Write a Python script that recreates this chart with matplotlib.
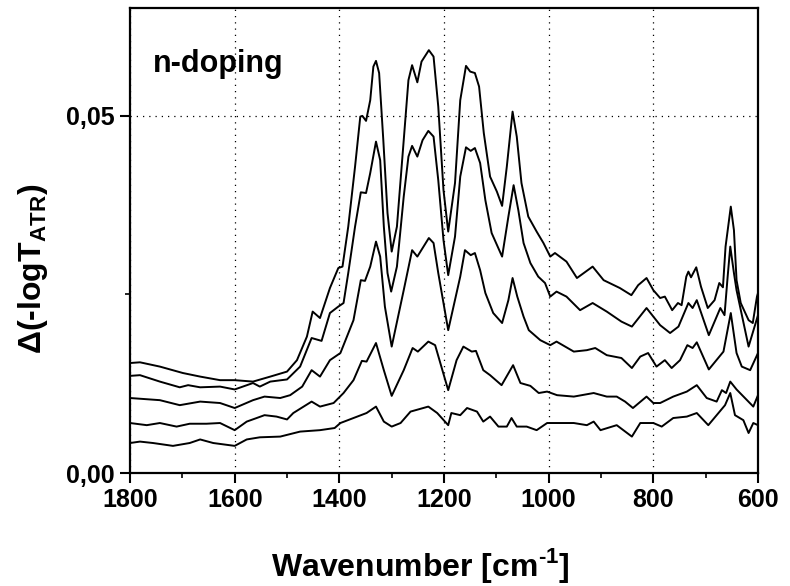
import matplotlib
matplotlib.use('Agg')
import matplotlib.pyplot as plt
from matplotlib.ticker import MultipleLocator, FuncFormatter

plt.rcParams['font.family'] = ['Liberation Sans', 'DejaVu Sans']
plt.rcParams['font.weight'] = 'bold'
plt.rcParams['mathtext.fontset'] = 'custom'
plt.rcParams['mathtext.rm'] = 'Liberation Sans:bold'
plt.rcParams['mathtext.bf'] = 'Liberation Sans:bold'

# spectra, top curve first
wn_1 = [1800, 1781, 1743, 1699, 1666, 1628, 1600, 1565, 1532, 1500, 1481, 1462, 1451, 1437,
        1418, 1402, 1394, 1383, 1370, 1360, 1356, 1349, 1341, 1335, 1330, 1324, 1316, 1308,
        1300, 1290, 1277, 1268, 1261, 1251, 1243, 1229, 1220, 1211, 1201, 1192, 1179, 1169,
        1158, 1150, 1141, 1133, 1124, 1112, 1099, 1089, 1080, 1069, 1061, 1052, 1039, 1023,
        1010, 997, 988, 966, 946, 916, 895, 864, 842, 829, 813, 800, 787, 778, 764, 753, 746,
        737, 733, 728, 718, 709, 696, 683, 674, 667, 662, 652, 646, 641, 633, 618, 610, 602,
        600]
ab_1 = [0.0154, 0.0155, 0.0149, 0.0140, 0.0135, 0.0130, 0.0130, 0.0128, 0.0135, 0.0142,
        0.0158, 0.0191, 0.0226, 0.0217, 0.0259, 0.0287, 0.0289, 0.0345, 0.0429, 0.0499,
        0.0500, 0.0493, 0.0522, 0.0569, 0.0577, 0.0560, 0.0466, 0.0364, 0.0310, 0.0345,
        0.0466, 0.0550, 0.0571, 0.0547, 0.0576, 0.0592, 0.0583, 0.0513, 0.0396, 0.0338,
        0.0406, 0.0522, 0.0570, 0.0562, 0.0560, 0.0541, 0.0476, 0.0415, 0.0394, 0.0374,
        0.0429, 0.0506, 0.0471, 0.0406, 0.0359, 0.0338, 0.0322, 0.0303, 0.0308, 0.0296,
        0.0273, 0.0289, 0.0270, 0.0259, 0.0249, 0.0263, 0.0273, 0.0256, 0.0245, 0.0247,
        0.0228, 0.0238, 0.0235, 0.0275, 0.0282, 0.0274, 0.0288, 0.0261, 0.0231, 0.0242,
        0.0266, 0.0260, 0.0317, 0.0373, 0.0340, 0.0270, 0.0238, 0.0214, 0.0210, 0.0247,
        0.0252]

wn_2 = [1800, 1781, 1743, 1705, 1689, 1666, 1628, 1600, 1565, 1552, 1532, 1500, 1475, 1453,
        1434, 1418, 1402, 1392, 1383, 1370, 1359, 1349, 1341, 1330, 1322, 1315, 1308, 1301,
        1290, 1277, 1268, 1261, 1251, 1241, 1230, 1220, 1211, 1201, 1192, 1179, 1169, 1158,
        1149, 1141, 1131, 1121, 1109, 1089, 1077, 1067, 1058, 1048, 1035, 1020, 1007, 997,
        985, 966, 940, 916, 889, 861, 841, 813, 787, 768, 752, 733, 725, 717, 694, 672, 664,
        658, 653, 646, 641, 618, 600]
ab_2 = [0.0136, 0.0137, 0.0128, 0.0120, 0.0123, 0.0120, 0.0121, 0.0117, 0.0126, 0.0121,
        0.0128, 0.0131, 0.0149, 0.0189, 0.0185, 0.0224, 0.0233, 0.0238, 0.0280, 0.0345,
        0.0393, 0.0392, 0.0420, 0.0464, 0.0438, 0.0345, 0.0280, 0.0254, 0.0289, 0.0387,
        0.0443, 0.0458, 0.0443, 0.0466, 0.0479, 0.0471, 0.0410, 0.0326, 0.0277, 0.0331,
        0.0415, 0.0456, 0.0451, 0.0455, 0.0434, 0.0382, 0.0336, 0.0303, 0.0359, 0.0403,
        0.0368, 0.0322, 0.0294, 0.0275, 0.0266, 0.0247, 0.0254, 0.0247, 0.0228, 0.0238,
        0.0226, 0.0212, 0.0205, 0.0231, 0.0207, 0.0196, 0.0205, 0.0238, 0.0231, 0.0242,
        0.0193, 0.0231, 0.0221, 0.0275, 0.0317, 0.0280, 0.0256, 0.0177, 0.0221]

wn_3 = [1800, 1743, 1705, 1666, 1628, 1600, 1565, 1543, 1513, 1494, 1471, 1453, 1437, 1418,
        1398, 1373, 1359, 1351, 1341, 1330, 1322, 1313, 1300, 1277, 1261, 1251, 1229, 1220,
        1211, 1192, 1169, 1160, 1149, 1141, 1131, 1121, 1106, 1089, 1077, 1069, 1060, 1048,
        1038, 1016, 997, 985, 952, 927, 911, 889, 861, 841, 825, 810, 794, 778, 765, 749, 735,
        725, 717, 694, 666, 652, 641, 631, 615, 600]
ab_3 = [0.0105, 0.0102, 0.0095, 0.0100, 0.0098, 0.0091, 0.0102, 0.0107, 0.0105, 0.0109,
        0.0121, 0.0144, 0.0135, 0.0158, 0.0168, 0.0214, 0.0270, 0.0269, 0.0289, 0.0324,
        0.0303, 0.0233, 0.0177, 0.0256, 0.0312, 0.0303, 0.0329, 0.0322, 0.0280, 0.0200,
        0.0275, 0.0312, 0.0305, 0.0308, 0.0284, 0.0252, 0.0224, 0.0210, 0.0242, 0.0273,
        0.0247, 0.0219, 0.0200, 0.0186, 0.0179, 0.0184, 0.0170, 0.0172, 0.0175, 0.0165,
        0.0161, 0.0147, 0.0163, 0.0168, 0.0149, 0.0158, 0.0147, 0.0158, 0.0179, 0.0175,
        0.0183, 0.0145, 0.0170, 0.0224, 0.0168, 0.0149, 0.0144, 0.0168]

wn_4 = [1800, 1768, 1743, 1711, 1686, 1654, 1628, 1600, 1577, 1558, 1543, 1520, 1500, 1488,
        1453, 1437, 1411, 1392, 1373, 1357, 1348, 1330, 1315, 1300, 1277, 1260, 1250, 1230,
        1217, 1192, 1176, 1163, 1147, 1139, 1125, 1112, 1090, 1068, 1054, 1035, 1019, 1003,
        984, 952, 914, 889, 870, 854, 839, 813, 800, 787, 762, 736, 717, 698, 679, 669, 661,
        653, 641, 621, 609, 600]
ab_4 = [0.0070, 0.0067, 0.0070, 0.0065, 0.0069, 0.0069, 0.0070, 0.0060, 0.0072, 0.0077,
        0.0081, 0.0079, 0.0075, 0.0084, 0.0100, 0.0093, 0.0098, 0.0112, 0.0130, 0.0157,
        0.0156, 0.0182, 0.0144, 0.0108, 0.0144, 0.0175, 0.0170, 0.0184, 0.0179, 0.0116,
        0.0158, 0.0177, 0.0170, 0.0171, 0.0144, 0.0137, 0.0123, 0.0151, 0.0126, 0.0122,
        0.0112, 0.0114, 0.0109, 0.0107, 0.0112, 0.0107, 0.0107, 0.0100, 0.0091, 0.0107,
        0.0098, 0.0098, 0.0107, 0.0114, 0.0123, 0.0105, 0.0100, 0.0116, 0.0112, 0.0128,
        0.0117, 0.0102, 0.0093, 0.0109]

wn_5 = [1800, 1781, 1756, 1718, 1686, 1666, 1641, 1600, 1577, 1552, 1513, 1475, 1437, 1409,
        1398, 1373, 1348, 1330, 1315, 1300, 1283, 1264, 1230, 1213, 1192, 1186, 1169, 1156,
        1137, 1125, 1112, 1096, 1080, 1071, 1061, 1042, 1023, 1003, 984, 952, 927, 914, 901,
        870, 841, 825, 800, 784, 762, 736, 717, 695, 679, 663, 653, 644, 628, 618, 609, 600]
ab_5 = [0.0042, 0.0044, 0.0042, 0.0038, 0.0042, 0.0047, 0.0042, 0.0038, 0.0047, 0.0050,
        0.0051, 0.0058, 0.0060, 0.0063, 0.0070, 0.0077, 0.0084, 0.0093, 0.0072, 0.0065,
        0.0070, 0.0086, 0.0093, 0.0084, 0.0067, 0.0084, 0.0081, 0.0091, 0.0086, 0.0072,
        0.0079, 0.0065, 0.0065, 0.0077, 0.0065, 0.0065, 0.0060, 0.0070, 0.0070, 0.0070,
        0.0067, 0.0072, 0.0060, 0.0067, 0.0051, 0.0070, 0.0070, 0.0065, 0.0077, 0.0079,
        0.0084, 0.0067, 0.0081, 0.0095, 0.0112, 0.0081, 0.0074, 0.0056, 0.0070, 0.0067]

spectra = [(wn_1, ab_1), (wn_2, ab_2), (wn_3, ab_3), (wn_4, ab_4), (wn_5, ab_5)]

fig = plt.figure(figsize=(7.9, 5.86), dpi=100)
ax = fig.add_axes([0.1646, 0.1928, 0.7949, 0.7935])

for wn, ab in spectra:
    ax.plot(wn, ab, color='black', lw=1.4, solid_joinstyle='round')

ax.set_xlim(1800, 600)
ax.set_ylim(0, 0.0651)

ax.xaxis.set_major_locator(MultipleLocator(200))
ax.xaxis.set_minor_locator(MultipleLocator(100))
ax.yaxis.set_major_locator(MultipleLocator(0.05))
ax.yaxis.set_minor_locator(MultipleLocator(0.025))
ax.yaxis.set_major_formatter(FuncFormatter(lambda v, p: f'{v:.2f}'.replace('.', ',')))

ax.tick_params(which='major', direction='out', length=7, width=1.5, labelsize=18, pad=4)
ax.tick_params(which='minor', direction='out', length=3.5, width=1.2)
ax.tick_params(top=False, right=False)
for s in ax.spines.values():
    s.set_linewidth(1.6)

ax.grid(True, which='major', color='black', linestyle=(0, (1, 4)), linewidth=0.9)

ax.text(0.037, 0.862, 'n-doping', transform=ax.transAxes, fontsize=22,
        fontweight='bold', va='baseline')

ax.set_xlabel('Wavenumber [cm$^{\\mathdefault{\u20101}}$]', fontsize=23, fontweight='bold',
              labelpad=24)
ax.xaxis.label.set_x(0.463)
ax.set_ylabel('Δ(-logT$_{\\mathdefault{ATR}}$)', fontsize=23, fontweight='bold')
ax.yaxis.set_label_coords(-0.127, 0.44)

fig.savefig('out.png', dpi=100)
